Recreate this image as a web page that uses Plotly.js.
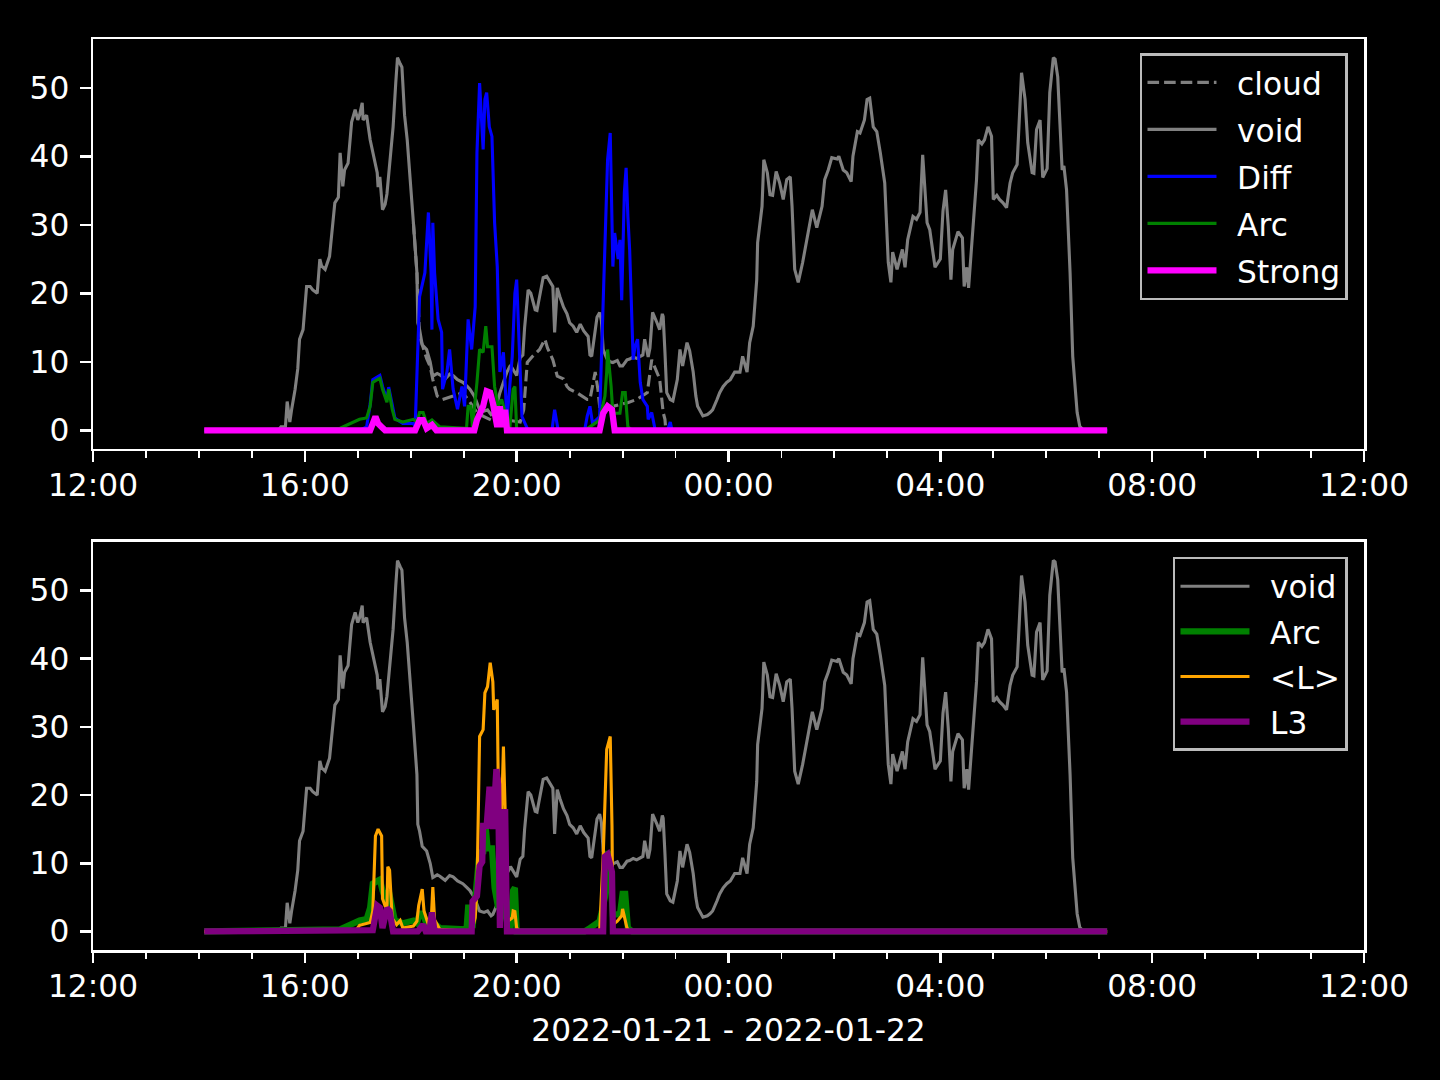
<!DOCTYPE html>
<html><head><meta charset="utf-8">
<script src="https://cdn.plot.ly/plotly-3.0.1.min.js"></script>
<style>html,body{margin:0;padding:0;background:#000;}</style>
</head><body>
<div id="chart" style="width:1440px;height:1080px;"></div>
<script>
// ---- data (clock times HH:MM, 2022-01-21 12:00 -> 2022-01-22 12:00) ----
const voidTime = ["14:06","15:30","15:33","15:38","15:40","15:42","15:43","15:45","15:49","15:52","15:54","15:58","16:02","16:06","16:09","16:14","16:17","16:19","16:23","16:28","16:32","16:34","16:38","16:40","16:43","16:45","16:49","16:51","16:53","16:57","17:00","17:02","17:05","17:06","17:10","17:14","17:17","17:22","17:23","17:25","17:28","17:31","17:33","17:36","17:40","17:43","17:45","17:48","17:50","17:51","17:53","17:56","17:59","18:03","18:07","18:08","18:10","18:13","18:18","18:22","18:25","18:30","18:33","18:39","18:44","18:48","18:53","18:59","19:04","19:07","19:12","19:15","19:18","19:23","19:27","19:31","19:33","19:38","19:41","19:45","19:49","19:53","20:00","20:04","20:07","20:09","20:13","20:16","20:21","20:23","20:26","20:30","20:34","20:38","20:41","20:43","20:46","20:49","20:53","20:57","21:00","21:04","21:08","21:12","21:16","21:21","21:23","21:25","21:29","21:31","21:34","21:36","21:38","21:42","21:46","21:49","21:54","21:57","22:00","22:05","22:08","22:12","22:16","22:20","22:23","22:25","22:29","22:31","22:34","22:39","22:42","22:45","22:46","22:48","22:50","22:54","22:57","23:02","23:05","23:08","23:13","23:16","23:20","23:23","23:25","23:31","23:36","23:39","23:42","23:47","23:50","23:54","23:58","00:02","00:07","00:13","00:16","00:21","00:24","00:28","00:32","00:33","00:38","00:40","00:44","00:47","00:50","00:54","00:58","01:02","01:06","01:10","01:12","01:15","01:19","01:24","01:29","01:35","01:40","01:46","01:49","01:53","01:57","02:03","02:05","02:10","02:14","02:19","02:21","02:26","02:29","02:34","02:37","02:40","02:44","02:48","02:52","02:57","03:01","03:04","03:06","03:11","03:17","03:20","03:23","03:29","03:33","03:37","03:40","03:45","03:48","03:54","04:00","04:03","04:06","04:09","04:12","04:14","04:20","04:25","04:27","04:30","04:32","04:37","04:41","04:43","04:47","04:50","04:54","04:58","05:00","05:04","05:07","05:11","05:15","05:19","05:22","05:27","05:28","05:30","05:32","05:36","05:39","05:44","05:46","05:49","05:53","05:56","06:01","06:04","06:08","06:10","06:13","06:18","06:20","06:23","06:27","06:30","06:35","06:38","06:42","07:09"];
const voidVal = [0,0,0.5,0.5,4.2,2,1.2,3,6,9,13.3,14.7,21,21,20.5,20,25,24,23.5,25.4,30.3,33.2,34,40.5,35.6,38,39,42,45,46.8,45.3,46,47.8,45.3,46,42.4,40.5,37.6,35.5,37,32.2,33,34.5,38.5,44.3,50.7,54.4,53.5,53,50.7,46,42.4,37.6,30.3,23,15.7,14.7,12.5,11.8,10,7.9,8.3,8.1,7.5,8.2,8,7.4,7,6.4,6,5,4.1,3,2.8,3,2.3,2.5,4,5.5,7,8.5,9.5,8,10.6,11,15,20.5,20,17.6,17.5,19.5,22.3,22.5,21.6,21,14.3,20.8,19.5,18,17,15.7,15.2,14.3,15.5,14.5,13.7,11,10.8,15.2,16.5,17.2,16,11.8,10.5,10,9.9,10.2,9.4,9.4,10.3,10.4,10.7,10.5,10.8,11,13.3,10.7,12,17.2,15.7,14.7,17,16.6,11.4,5.5,4.5,4.3,7.4,11.8,9.4,12.8,11.6,8.5,5,3.5,2.1,2.3,2.6,3,4.5,5.5,6.4,7,7.4,8.5,8.5,10.8,8.5,12.8,15.2,22,27.4,32.7,39.5,37.6,34.4,34.3,37.8,36.1,33.7,36.6,37,32.7,23.5,21.6,24.5,27.8,32.2,29.6,32.7,36.6,38,39.8,39.6,40,38,37.6,36.3,40,43.6,43.4,45.3,48.3,48.5,44.3,43.6,40.5,36.1,24.5,21.6,26,23.5,26.4,23.8,27.8,31.2,30.8,31.8,40.2,30.3,29.3,23.8,25,32,35.1,29.8,22,26.4,29,28.1,21,23.8,20.8,30.3,36.6,42.4,41.8,42.4,44.3,42.9,33.7,34.3,33.7,33.2,32.5,36.1,37.6,38.8,42,47.2,52.2,48.3,42,37.6,37.5,43.9,45.3,36.9,38.2,49.3,54.4,54.2,51.6,38,38.6,35.1,23,10.8,2.6,0.6,0,0];

const cloudTime = ["18:03","18:07","18:10","18:18","18:22","18:25","18:30","18:36","18:48","18:59","19:07","19:15","19:23","19:31","19:41","19:49","20:04","20:08","20:12","20:18","20:26","20:32","20:35","20:41","20:46","20:53","20:57","21:00","21:08","21:20","21:23","21:29","21:32","21:34","21:49","22:05","22:16","22:28","22:33","22:39","22:42","22:46","22:48","22:49"];
const cloudVal = [30.3,23,13.7,10.5,9.3,7.4,5,4.5,5,5.5,4.1,2.6,2,1.5,1.2,1.5,1.2,3,9.9,10.8,11.8,13.3,12,10.3,7.9,7.5,6.4,6,5.5,4.5,4.5,8.5,6,3.5,3.5,4,4.5,5.5,10.3,8.5,7.5,2.6,1.6,0];

const diffTime = ["14:06","17:02","17:10","17:14","17:17","17:22","17:25","17:28","17:33","17:35","17:39","17:42","17:51","18:03","18:05","18:10","18:16","18:20","18:23","18:24","18:25","18:27","18:31","18:35","18:36","18:41","18:44","18:48","18:53","18:58","19:01","19:05","19:09","19:13","19:15","19:18","19:22","19:24","19:26","19:29","19:32","19:35","19:38","19:41","19:45","19:49","19:55","19:58","20:00","20:04","20:06","20:13","20:40","20:43","20:47","21:17","21:20","21:23","21:26","21:34","21:40","21:42","21:43","21:46","21:48","21:49","21:51","21:55","21:57","21:59","22:02","22:04","22:06","22:08","22:11","22:12","22:14","22:17","22:20","22:23","22:28","22:29","22:33","22:37","22:51","22:54","22:56","07:09"];
const diffVal = [0,0,0.5,3.8,7.4,7.8,8,6.4,4.5,6.3,3.4,1.8,1,1,0.5,19.5,23,31.8,23,14.7,30.3,23,16.2,14.3,6,8.5,11.8,6,3.1,6.4,3.5,16.2,11.8,18,40.5,50.7,41,48.3,49.3,44.3,42.9,30.3,23.9,8.5,11.4,1.6,10.8,20,22,8.5,2,0,0,3,0,0,2.1,3.5,1,2,25,36,39.5,43.4,31.2,23.9,28.8,25,27.8,19,34.7,38.3,31.2,26.4,14.3,10.3,12.2,13.3,7,4.5,3.5,1.6,2.6,0,0,1.2,0,0];

const arcTime = ["14:06","16:40","17:02","17:10","17:14","17:17","17:22","17:25","17:28","17:33","17:35","17:39","17:42","17:51","18:03","18:07","18:10","18:14","18:18","18:24","18:33","19:01","19:03","19:05","19:08","19:10","19:15","19:18","19:22","19:25","19:27","19:32","19:35","19:39","19:43","19:47","19:52","19:56","19:58","20:00","21:17","21:23","21:34","21:40","21:42","21:43","21:47","21:49","21:57","22:00","22:03","22:06","22:11","07:09"];
const arcVal = [0,0.3,1.6,1.8,3.5,7,7.4,7.6,6,4.1,6,3.1,1.6,1.2,1.6,1.2,2.6,2.6,1,1.5,0.5,0.3,0,3.5,3.5,0.5,7,11.8,11.4,15.2,12.2,12.2,6.4,3.5,4.5,2.5,0,6,6.4,0,0,0.5,1.5,5,8.5,11.8,6.4,2.5,2.5,5.5,5.5,0.5,0,0];

const strongTime = ["14:06","17:14","17:20","17:23","17:27","17:31","18:05","18:10","18:14","18:18","18:24","18:29","19:12","19:15","19:22","19:26","19:30","19:33","19:38","19:41","19:43","19:47","19:49","21:34","21:38","21:43","21:48","21:51","07:09"];
const strongVal = [0,0,2,1,0.5,0,0,1.5,1.5,0.3,0.8,0,0,1.5,3.5,5.7,5.5,4,0.5,3.5,0.5,3,0,0,2.5,3.5,3,0,0];

const lTime = ["14:06","16:57","17:02","17:14","17:17","17:20","17:23","17:27","17:28","17:33","17:34","17:36","17:39","17:44","17:48","17:51","18:03","18:07","18:09","18:13","18:15","18:20","18:23","18:25","18:27","18:33","19:09","19:13","19:15","19:16","19:18","19:22","19:24","19:27","19:30","19:33","19:34","19:38","19:39","19:43","19:45","19:47","19:49","19:55","19:56","19:58","20:00","20:04","21:34","21:38","21:42","21:46","21:48","21:49","21:54","21:59","22:00","22:05","22:08","07:09"];
const lVal = [0,0,0.9,1.3,3,14,15,14,4.8,3,9.5,9,1.9,1,1.6,0.5,0.8,1.5,3.8,6.2,3,1,1,6.5,1.7,0.3,0,2,5.8,15.5,28.6,29.6,35,35.9,39.4,36.6,32.5,34,23.3,17.5,27.1,17.5,1.4,2,3,2.9,0.5,0,0,11,26.7,28.6,15.5,1,1.5,2.3,3.3,0.5,0,0];

const l3Time = ["14:06","17:17","17:22","17:25","17:28","17:33","17:36","17:40","18:08","18:10","18:14","18:17","18:21","18:24","18:27","19:09","19:10","19:15","19:16","19:18","19:21","19:22","19:26","19:29","19:32","19:33","19:37","19:39","19:41","19:43","19:47","19:49","21:38","21:40","21:43","21:48","21:49","07:09"];
const l3Val = [0,0.2,3.8,3.5,0.5,3.4,3,0,0,0.5,1,0,0,2.8,0,0,4.4,5.2,8.7,9.6,10.2,15.5,15.5,20.8,20.8,15,23.8,21.6,0.5,17.5,17.5,0,0,11,11.3,8.7,0,0];

const xTickFormat = "%H:%M";
const xTitle = "2022-01-21 - 2022-01-22";

// ---- helpers ----
function toDate(t){ const h = parseInt(t.slice(0,2),10); return (h >= 12 ? "2022-01-21 " : "2022-01-22 ") + t; }
const D = a => a.map(toDate);
const GAP = "\u2002";  // spacing between legend line and label

const FONT = "DejaVu Sans, Liberation Sans, sans-serif";
const FS = 31.25;
const traces = [
  {x:D(cloudTime), y:cloudVal, name:GAP+"cloud", legendgroup:"a1", xaxis:"x", yaxis:"y", legend:"legend", mode:"lines", line:{color:"#808080", width:3.1, dash:"11.6px,5px"}},
  {x:D(voidTime), y:voidVal, name:GAP+"void", legendgroup:"a2", xaxis:"x", yaxis:"y", legend:"legend", mode:"lines", line:{color:"#808080", width:3.1}},
  {x:D(diffTime), y:diffVal, name:GAP+"Diff", legendgroup:"a3", xaxis:"x", yaxis:"y", legend:"legend", mode:"lines", line:{color:"#0000ff", width:3.1}},
  {x:D(arcTime), y:arcVal, name:GAP+"Arc", legendgroup:"a4", xaxis:"x", yaxis:"y", legend:"legend", mode:"lines", line:{color:"#008000", width:3.1}},
  {x:D(strongTime), y:strongVal, name:GAP+"Strong", legendgroup:"a5", xaxis:"x", yaxis:"y", legend:"legend", mode:"lines", line:{color:"#ff00ff", width:6.25}},
  {x:D(voidTime), y:voidVal, name:GAP+"void", legendgroup:"b1", xaxis:"x2", yaxis:"y2", legend:"legend2", mode:"lines", line:{color:"#808080", width:3.1}},
  {x:D(arcTime), y:arcVal, name:GAP+"Arc", legendgroup:"b2", xaxis:"x2", yaxis:"y2", legend:"legend2", mode:"lines", line:{color:"#008000", width:6.25}},
  {x:D(lTime), y:lVal, name:GAP+"&lt;L&gt;", legendgroup:"b3", xaxis:"x2", yaxis:"y2", legend:"legend2", mode:"lines", line:{color:"#ffa500", width:3.1}},
  {x:D(l3Time), y:l3Val, name:GAP+"L3", legendgroup:"b4", xaxis:"x2", yaxis:"y2", legend:"legend2", mode:"lines", line:{color:"#800080", width:6.25}}
];

const xBase = {
  type:"date", range:["2022-01-21 12:00","2022-01-22 12:00"], tick0:"2022-01-21 00:00", dtick:14400000,
  tickformat:xTickFormat, showgrid:false, zeroline:false, showline:true, mirror:true,
  linecolor:"#ffffff", linewidth:2.5, ticks:"outside", ticklen:10.9, tickwidth:2.5, tickcolor:"#ffffff",
  ticklabelstandoff:-4,
  tickfont:{family:FONT, size:FS, color:"#ffffff"},
  minor:{dtick:3600000, ticks:"outside", ticklen:6.25, tickwidth:1.9, tickcolor:"#ffffff", showgrid:false}
};
const yBase = {
  range:[-2.72, 57.12], tick0:0, dtick:10, showgrid:false, zeroline:false, showline:true, mirror:true,
  linecolor:"#ffffff", linewidth:2.5, ticks:"outside", ticklen:10.9, tickwidth:2.5, tickcolor:"#ffffff",
  ticklabelstandoff:4,
  tickfont:{family:FONT, size:FS, color:"#ffffff"}
};
const legBase = {bgcolor:"#000000", bordercolor:"#bbbbbb", borderwidth:2.5, xanchor:"right", yanchor:"top",
  itemwidth:69, traceorder:"grouped", font:{family:FONT, size:FS, color:"#ffffff"}};

const layout = {
  width:1440, height:1080, paper_bgcolor:"#000000", plot_bgcolor:"#000000",
  margin:{l:93, r:76, t:39, b:130}, font:{family:FONT, color:"#ffffff"},
  xaxis:Object.assign({}, xBase, {anchor:"y", domain:[0,1]}),
  yaxis:Object.assign({}, yBase, {anchor:"x", domain:[0.55,1]}),
  xaxis2:Object.assign({}, xBase, {anchor:"y2", domain:[0,1], title:{text:xTitle, font:{family:FONT, size:FS, color:"#ffffff"}, standoff:16}}),
  yaxis2:Object.assign({}, yBase, {anchor:"x2", domain:[0,0.4479]}),
  legend:Object.assign({}, legBase, {x:0.9874, y:0.9846, tracegroupgap:3.4}),
  legend2:Object.assign({}, legBase, {x:0.9874, y:0.4314, tracegroupgap:1.5}),
  showlegend:true
};
Plotly.newPlot("chart", traces, layout, {displayModeBar:false, staticPlot:true});
</script>
</body></html>
